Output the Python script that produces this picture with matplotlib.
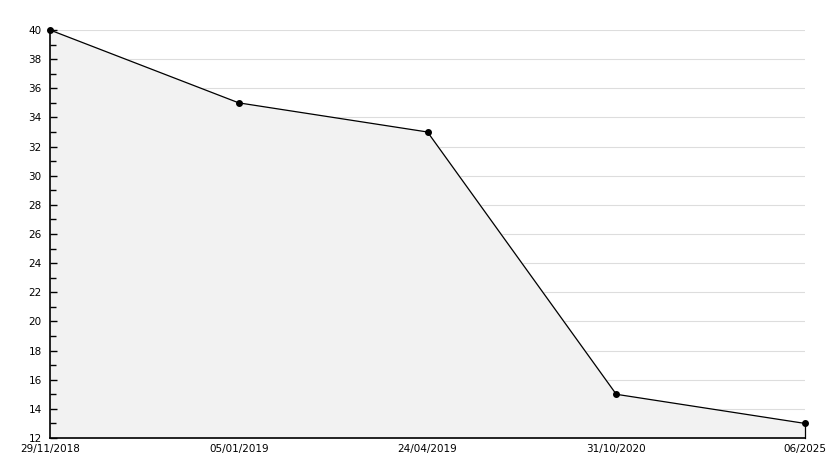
import matplotlib
matplotlib.use("Agg")
import matplotlib.pyplot as plt
from matplotlib.ticker import MultipleLocator

# Dữ liệu
dates = ["29/11/2018", "05/01/2019", "24/04/2019", "31/10/2020", "06/2025"]
values = [40, 35, 33, 15, 13]
grid_levels = list(range(14, 41, 2))

fig = plt.figure(figsize=(8.34, 4.68), dpi=100)
ax = fig.add_axes([50/834, 30/468, 755/834, 408/468])

x = list(range(len(dates)))
# lưới ngang nằm dưới vùng tô
for g in grid_levels:
    ax.axhline(g, color="#dddddd", lw=0.8, zorder=0)
ax.fill_between(x, values, 12, color="#f2f2f2", zorder=1)
ax.plot(x, values, color="black", lw=0.9, marker="o", ms=4, zorder=3, clip_on=False)
ax.plot([x[-1], x[-1]], [12, values[-1]], color="black", lw=0.9, zorder=3, clip_on=False)

ax.set_xlim(0, len(dates) - 1)
ax.set_ylim(12, 40)
ax.yaxis.set_major_locator(MultipleLocator(2))
ax.yaxis.set_minor_locator(MultipleLocator(1))
ax.set_axisbelow(False)

ax.set_xticks(x)
ax.set_xticklabels(dates)
ax.tick_params(axis="x", length=0, pad=4, labelsize=7.5)
ax.tick_params(axis="y", which="major", direction="in", length=5, width=1, labelsize=7.5, pad=6)
ax.tick_params(axis="y", which="minor", direction="in", length=4, width=1)

for s in ["top", "right"]:
    ax.spines[s].set_visible(False)
ax.spines["left"].set_linewidth(1.2)
ax.spines["bottom"].set_linewidth(1.2)

fig.savefig("out.png", dpi=100)
